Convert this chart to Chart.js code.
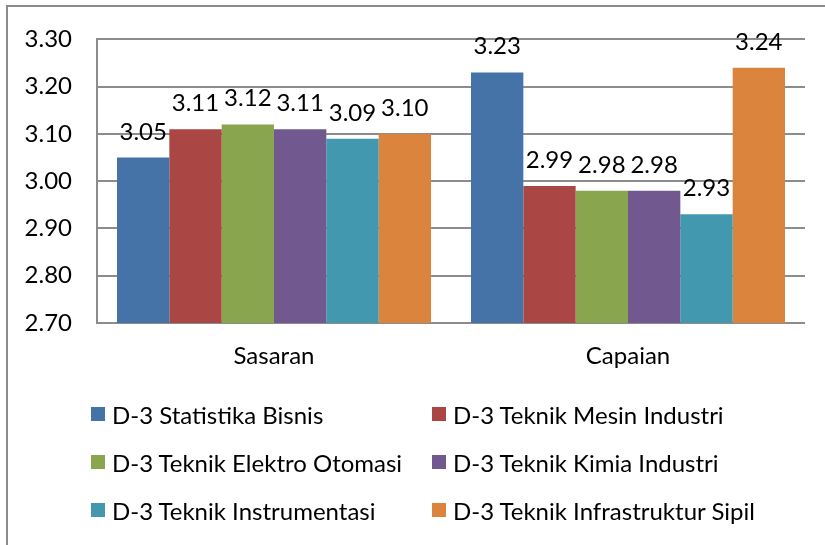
<!DOCTYPE html>
<html lang="id">
<head>
<meta charset="utf-8">
<title>Sasaran dan Capaian</title>
<script src="https://cdn.jsdelivr.net/npm/chart.js@4/dist/chart.umd.min.js"></script>
<style>
    html, body { margin: 0; padding: 0; background: #fff; }
    #wrap { position: relative; width: 825px; height: 545px; overflow: hidden; }
    #frame {
        position: absolute; left: 6px; top: 5px; right: -10px; bottom: -10px;
        border-top: 2px solid #8c8c8c; border-left: 2px solid #8c8c8c;
    }
    #grafik { position: absolute; left: 0; top: 0; }
    .legend-item {
        position: absolute; height: 30px; display: flex; align-items: center;
        font-family: Lato, "Open Sans", sans-serif; font-size: 24px; color: #000; white-space: nowrap;
    }
    .legend-box { width: 14px; height: 14px; margin-right: 7px; }
</style>
</head>
<body>
<div id="wrap">
    <div id="frame"></div>
    <canvas id="grafik" width="825" height="545"></canvas>
    <div id="legenda"></div>
</div>
<script>
// Kategori dan nilai per program studi
const kategori = ["Sasaran", "Capaian"];
const prodi = [
    "D-3 Statistika Bisnis",
    "D-3 Teknik Mesin Industri",
    "D-3 Teknik Elektro Otomasi",
    "D-3 Teknik Kimia Industri",
    "D-3 Teknik Instrumentasi",
    "D-3 Teknik Infrastruktur Sipil"
];
const statistikaBisnis = [3.05, 3.23];
const mesinIndustri = [3.11, 2.99];
const elektroOtomasi = [3.12, 2.98];
const kimiaIndustri = [3.11, 2.98];
const instrumentasi = [3.09, 2.93];
const infrastrukturSipil = [3.10, 3.24];
const warna = ["#4572A7", "#AA4643", "#89A54E", "#71588F", "#4198AF", "#DB843D"];
const yTicks = [2.70, 2.80, 2.90, 3.00, 3.10, 3.20, 3.30];

const FONT = 'Lato, "Open Sans", sans-serif';

document.addEventListener("DOMContentLoaded", () => {
    const nilai = [statistikaBisnis, mesinIndustri, elektroOtomasi, kimiaIndustri, instrumentasi, infrastrukturSipil];

    const datasets = prodi.map((nama, i) => ({
        label: nama,
        data: nilai[i],
        backgroundColor: warna[i],
        borderWidth: 0,
        categoryPercentage: 0.887,
        barPercentage: 1.0
    }));

    // Label nilai di atas setiap batang
    const labelNilai = {
        id: "labelNilai",
        afterDatasetsDraw(chart) {
            const ctx = chart.ctx;
            ctx.save();
            ctx.font = `24px ${FONT}`;
            ctx.fillStyle = "#000";
            ctx.textAlign = "center";
            ctx.textBaseline = "alphabetic";
            chart.data.datasets.forEach((ds, i) => {
                const meta = chart.getDatasetMeta(i);
                meta.data.forEach((bar, j) => {
                    ctx.fillText(ds.data[j].toFixed(2), bar.x, bar.y - 18);
                });
            });
            ctx.restore();
        }
    };

    const grid = "#8c8c8c";

    new Chart(document.getElementById("grafik"), {
        type: "bar",
        data: { labels: kategori, datasets: datasets },
        options: {
            responsive: false,
            animation: false,
            layout: { padding: { top: 36, right: 20, left: 0, bottom: 0 } },
            plugins: {
                legend: { display: false },
                tooltip: { enabled: false }
            },
            scales: {
                x: {
                    grid: { display: false, drawTicks: false },
                    border: { display: false },
                    ticks: { color: "#000", font: { family: FONT, size: 24 }, padding: 19 },
                    afterFit: (scale) => { scale.height = 222; }
                },
                y: {
                    min: 2.7,
                    max: 3.3,
                    grid: { color: grid, lineWidth: 2, drawTicks: false },
                    border: { display: true, color: grid, width: 2 },
                    ticks: {
                        color: "#000",
                        font: { family: FONT, size: 24 },
                        padding: 25,
                        callback: (v) => Number(v).toFixed(2)
                    },
                    afterBuildTicks: (scale) => { scale.ticks = yTicks.map(v => ({ value: v })); },
                    afterFit: (scale) => { scale.width = 97; }
                }
            }
        },
        plugins: [labelNilai]
    });

    // Legenda dua kolom di bawah grafik
    const legenda = document.getElementById("legenda");
    const kolomX = [91, 432];
    const barisY = [414, 462, 510];
    prodi.forEach((nama, i) => {
        const item = document.createElement("div");
        item.className = "legend-item";
        item.style.left = kolomX[i % 2] + "px";
        item.style.top = (barisY[Math.floor(i / 2)] - 15) + "px";
        item.innerHTML = `<span class="legend-box" style="background:${warna[i]}"></span><span>${nama}</span>`;
        legenda.appendChild(item);
    });
});
</script>
</body>
</html>
